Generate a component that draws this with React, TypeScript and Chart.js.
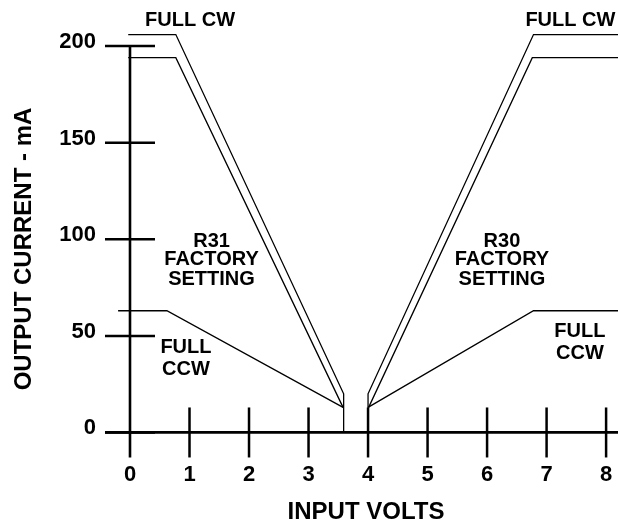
import React, { useEffect, useRef } from "react";
import { Chart, registerables } from "chart.js";

Chart.register(...registerables);

// Axis ticks (volts / mA)
const xTickValues = [0, 1, 2, 3, 4, 5, 6, 7, 8];
const xTickLabels = ["0", "1", "2", "3", "4", "5", "6", "7", "8"];
const yTickValues = [0, 50, 100, 150, 200];
const yTickLabels = ["0", "50", "100", "150", "200"];

// R31 side (left)
const r31CwHighVolts = [-0.03, 0.77, 3.59, 3.59];
const r31CwHighMa = [206, 206, 20, 0];
const r31CwLowVolts = [-0.03, 0.77, 3.58];
const r31CwLowMa = [194, 194, 13];
const r31CcwVolts = [-0.2, 0.62, 3.58];
const r31CcwMa = [63, 63, 13];

// R30 side (right)
const r30CwHighVolts = [4.0, 4.0, 6.78, 8.2];
const r30CwHighMa = [0, 20, 206, 206];
const r30CwLowVolts = [4.01, 6.76, 8.2];
const r30CwLowMa = [13, 194, 194];
const r30CcwVolts = [4.0, 6.78, 8.2];
const r30CcwMa = [13, 63, 63];

const xTitle = "INPUT VOLTS";
const yTitle = "OUTPUT CURRENT - mA";

// text notes: [text, volts, mA (baseline)]
const noteTexts = ["FULL CW", "FULL CW", "R31", "FACTORY", "SETTING", "R30", "FACTORY", "SETTING", "FULL", "CCW", "FULL", "CCW"];
const noteVolts = [1.01, 7.4, 1.37, 1.37, 1.37, 6.25, 6.25, 6.25, 0.94, 0.94, 7.56, 7.56];
const noteMa = [210.4, 210.4, 96.2, 86.7, 76.3, 96.2, 86.7, 76.3, 41.3, 29.8, 49.6, 37.9];

const FONT = "Arial, 'Liberation Sans', Helvetica, sans-serif";

function toPoints(xs: number[], ys: number[]) {
  return xs.map((v, i) => ({ x: v, y: ys[i] }));
}

const axesPlugin = {
  id: "crossAxes",
  afterDatasetsDraw(chart: any) {
    const { ctx, scales, chartArea } = chart;
    const xs = scales.x;
    const ys = scales.y;
    const TICK = 25;
    const x0 = xs.getPixelForValue(0);
    const y0 = ys.getPixelForValue(0);
    const line = (a: number, b: number, c: number, d: number) => {
      ctx.beginPath();
      ctx.moveTo(a, b);
      ctx.lineTo(c, d);
      ctx.stroke();
    };
    ctx.save();
    ctx.strokeStyle = "#000";
    ctx.fillStyle = "#000";
    ctx.lineCap = "butt";
    // y axis
    ctx.lineWidth = 2.6;
    line(x0, ys.getPixelForValue(yTickValues[yTickValues.length - 1]), x0, y0 + TICK);
    // x axis
    ctx.lineWidth = 2.8;
    line(x0 - TICK, y0, chartArea.right, y0);
    // y ticks
    ctx.lineWidth = 2.5;
    yTickValues.forEach((v) => {
      const py = ys.getPixelForValue(v);
      line(x0 - TICK, py, x0 + TICK, py);
    });
    // x ticks
    xTickValues.forEach((v) => {
      if (v === 0) return;
      const px = xs.getPixelForValue(v);
      line(px, y0 - TICK, px, y0 + TICK);
    });
    // tick labels
    ctx.font = `bold 22px ${FONT}`;
    ctx.textBaseline = "alphabetic";
    ctx.textAlign = "right";
    yTickValues.forEach((v, i) => {
      ctx.fillText(yTickLabels[i], x0 - 34, ys.getPixelForValue(v) + 2);
    });
    ctx.textAlign = "center";
    xTickValues.forEach((v, i) => {
      ctx.fillText(xTickLabels[i], xs.getPixelForValue(v), y0 + 49);
    });
    // notes
    ctx.font = `bold 20px ${FONT}`;
    noteTexts.forEach((t, i) => {
      ctx.fillText(t, xs.getPixelForValue(noteVolts[i]), ys.getPixelForValue(noteMa[i]));
    });
    // axis titles
    ctx.font = `bold 24px ${FONT}`;
    ctx.fillText(xTitle, 366, 519);
    ctx.save();
    ctx.translate(31, 249);
    ctx.rotate(-Math.PI / 2);
    ctx.fillText(yTitle, 0, 0);
    ctx.restore();
    ctx.restore();
  },
};

export default function App() {
  const canvasRef = useRef<HTMLCanvasElement | null>(null);

  useEffect(() => {
    if (!canvasRef.current) return;
    const ds = (xs: number[], ys: number[]) => ({
      data: toPoints(xs, ys),
      showLine: true,
      borderColor: "#000",
      backgroundColor: "#000",
      borderWidth: 1.3,
      pointRadius: 0,
      fill: false,
      tension: 0,
    });
    const chart = new Chart(canvasRef.current, {
      type: "scatter",
      data: {
        datasets: [
          ds(r31CwHighVolts, r31CwHighMa),
          ds(r31CwLowVolts, r31CwLowMa),
          ds(r31CcwVolts, r31CcwMa),
          ds(r30CwHighVolts, r30CwHighMa),
          ds(r30CwLowVolts, r30CwLowMa),
          ds(r30CcwVolts, r30CcwMa),
        ],
      },
      options: {
        animation: false,
        responsive: true,
        maintainAspectRatio: false,
        layout: { padding: { left: 105, right: 0, top: 26.8, bottom: 70 } },
        plugins: { legend: { display: false }, tooltip: { enabled: false } },
        scales: {
          x: { type: "linear", min: -0.42, max: 8.2, display: false },
          y: { type: "linear", min: -12.7, max: 210, display: false },
        },
      },
      plugins: [axesPlugin],
    });
    return () => chart.destroy();
  }, []);

  return (
    <div style={{ position: "fixed", left: 0, top: 0, width: 618, height: 527, background: "#fff" }}>
      <canvas ref={canvasRef} />
    </div>
  );
}
